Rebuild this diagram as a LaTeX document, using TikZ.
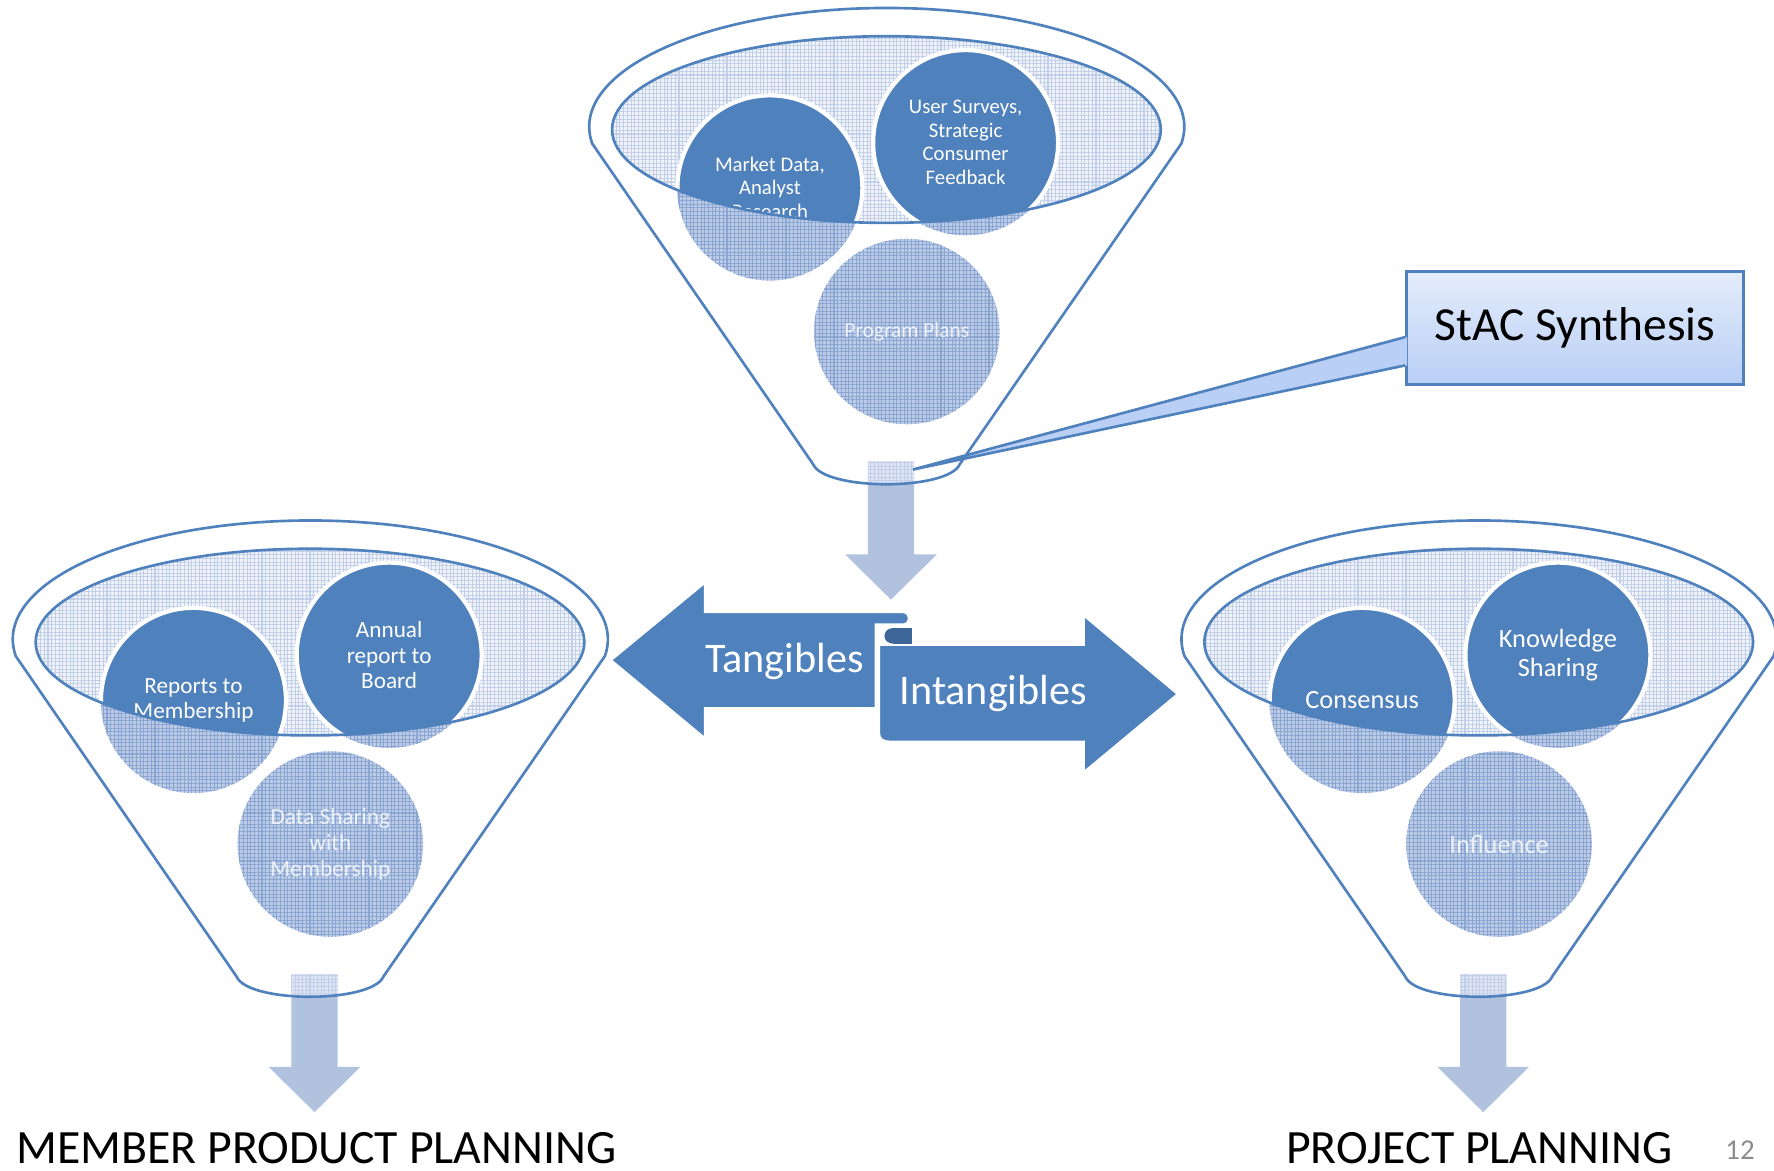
\documentclass[tikz,border=0pt]{standalone}
\usepackage{fontspec}
\setmainfont{Carlito}
\usepackage{xcolor}
\usepackage{tikz}
\usetikzlibrary{patterns.meta}
\definecolor{blu}{HTML}{4F81BD}
\definecolor{bluscuro}{HTML}{3C6598}
\definecolor{azzurro}{HTML}{F0F3FA}
\definecolor{retino}{HTML}{C2CFE8}
\definecolor{celeste}{HTML}{BCCCE7}
\definecolor{retinoscuro}{HTML}{8AA5D2}
\definecolor{freccia}{HTML}{B1C2DE}
\definecolor{nuvola}{HTML}{E4ECFB}
\definecolor{nuvolascura}{HTML}{B9CFF5}
\definecolor{grigio}{HTML}{8C8C8C}
% outline of one funnel, around the centre of its rim
\newcommand{\sagoma}{(-260,15) arc[start angle=171.8, end angle=368.2, x radius=263, y radius=105]
  -- (65,298) .. controls (55,322) and (-55,322) .. (-65,298) -- cycle}

\begin{document}
\begin{tikzpicture}[x=0.11314mm, y=-0.11314mm,
  bordo/.style={draw=blu, line width=0.75pt},
  griglia/.style={pattern={Hatch[distance=1.05pt, line width=0.3pt]}, pattern color=#1},
  griglia/.default=retino,
  disco/.style={circle, fill=blu, draw=white, line width=1.2pt, minimum size=18.5mm,
    inner sep=0pt, text=white, align=center},
  velato/.style={text=white, text opacity=0.8, align=center, inner sep=0pt},
  nastro/.style={fill=blu, draw=white, line width=0.6pt}]
\useasboundingbox (0,0) rectangle (1568,1035);

% Funnels: body, outlet arrow, rim
\foreach \ox/\oy in {783.5/112, 274/565, 1307/565} {
  \begin{scope}[shift={(\ox,\oy)}]
    \fill[white] \sagoma;
    \fill[freccia] (-16.5,296) -- (24.5,296) -- (24.5,378) -- (44.5,378)
      -- (4,418) -- (-36.5,378) -- (-16.5,378) -- cycle;
    \begin{scope}
      \clip \sagoma;
      \fill[azzurro!60!retino] (-16.5,296) rectangle (24.5,325);
      \fill[griglia] (-16.5,296) rectangle (24.5,325);
    \end{scope}
    \draw[bordo] \sagoma;
    \fill[azzurro] (0,2.5) ellipse [x radius=242.5, y radius=82.5];
    \fill[griglia] (0,2.5) ellipse [x radius=242.5, y radius=82.5];
  \end{scope}
}

% Circles in each funnel
\coordinate (mkt) at (680.5,166);
\coordinate (usr) at (853.5,126);
\coordinate (prg) at (801.5,293);
\coordinate (rep) at (171,619);
\coordinate (ann) at (344,579);
\coordinate (dat) at (292,746);
\coordinate (con) at (1204,619);
\coordinate (kno) at (1377,579);
\coordinate (inf) at (1325,746);
\foreach \c in {mkt,usr,prg,rep,ann,dat,con,kno,inf} {
  \fill[celeste] (\c) circle (82);
  \fill[griglia=retinoscuro] (\c) circle (82);
}

% Solid part of the circles, inside the rim
\begin{scope}[font=\fontsize{5.9}{6.7}\selectfont]
  \clip (783.5,114.5) ellipse [x radius=242.5, y radius=82.5];
  \node[disco] (mkt-d) at (mkt) {Market Data,\\Analyst\\Research};
  \node[disco] (usr-d) at (usr) {User Surveys,\\Strategic\\Consumer\\Feedback};
\end{scope}
\begin{scope}[font=\fontsize{6.6}{7.3}\selectfont]
  \clip (274,567) ellipse [x radius=242.5, y radius=82.5];
  \node[disco] (rep-d) at (rep) {Reports to\\Membership};
  \node[disco] (ann-d) at (ann) {Annual\\report to\\Board};
\end{scope}
\begin{scope}[font=\fontsize{7.5}{8.4}\selectfont]
  \clip (1307,567) ellipse [x radius=242.5, y radius=82.5];
  \node[disco] (con-d) at (con) {Consensus};
  \node[disco] (kno-d) at (kno) {Knowledge\\Sharing};
\end{scope}
\foreach \ox/\oy in {783.5/112, 274/565, 1307/565}
  \draw[bordo] (\ox,\oy+2.5) ellipse [x radius=242.5, y radius=82.5];

% Lower circles
\node[velato, font=\fontsize{6.1}{7}\selectfont] (prg-t) at (prg) {Program Plans};
\node[velato, font=\fontsize{6.6}{7.4}\selectfont] (dat-t) at (dat) {Data Sharing\\with\\Membership};
\node[velato, font=\fontsize{7.5}{8.4}\selectfont] (inf-t) at (inf) {Influence};

% Tangibles / Intangibles ribbon
\filldraw[nastro] (540,583.5) -- (623,515) -- (623,541) -- (798,541)
  .. controls (805,541) and (805,552) .. (798,552) -- (774,552) -- (774,626)
  -- (623,626) -- (623,652.5) -- cycle;
\filldraw[nastro] (777,570) -- (958,570) -- (958,544) -- (1041,613.5) -- (958,682.5)
  -- (958,655.5) -- (787,655.5) .. controls (780,655.5) and (777,653) .. (777,648) -- cycle;
% curl where the two arrows meet
\fill[bluscuro] (806,555) -- (790,555) .. controls (779,555) and (779,569) .. (790,569)
  -- (806,569) -- cycle;
\draw[white, line width=0.6pt] (777,570) -- (777,563) .. controls (777,557) and (782,554) .. (790,554)
  -- (806,554);
\node[white, font=\fontsize{12}{14}\selectfont, anchor=base] (tang) at (693.5,594.5) {Tangibles};
\node[white, font=\fontsize{12}{14}\selectfont, anchor=base] (intang) at (878,623) {Intangibles};

% Callout
\node[draw=blu, line width=0.75pt, top color=nuvola, bottom color=nuvolascura,
  minimum width=33.7mm, minimum height=11.3mm, font=\fontsize{13.5}{16}\selectfont]
  (stac) at (1392,290) {StAC Synthesis};
\coordinate (punta) at (807,415);
\fill[nuvolascura] ([xshift=0.6pt, yshift=-0.9mm]stac.west) -- (punta)
  -- ([xshift=0.6pt, yshift=-3.73mm]stac.west) -- cycle;
\draw[blu, line width=0.75pt] ([yshift=-0.9mm]stac.west) -- (punta)
  -- ([yshift=-3.73mm]stac.west);

% Outputs
\node[anchor=base, font=\fontsize{13.6}{16}\selectfont] (mpp) at (279.5,1028) {MEMBER PRODUCT PLANNING};
\node[anchor=base, font=\fontsize{13.6}{16}\selectfont] (pp) at (1307.5,1028) {PROJECT PLANNING};
\node[anchor=base, grigio, font=\fontsize{8.2}{10}\selectfont] (pag) at (1538,1025) {12};
\end{tikzpicture}
\end{document}
